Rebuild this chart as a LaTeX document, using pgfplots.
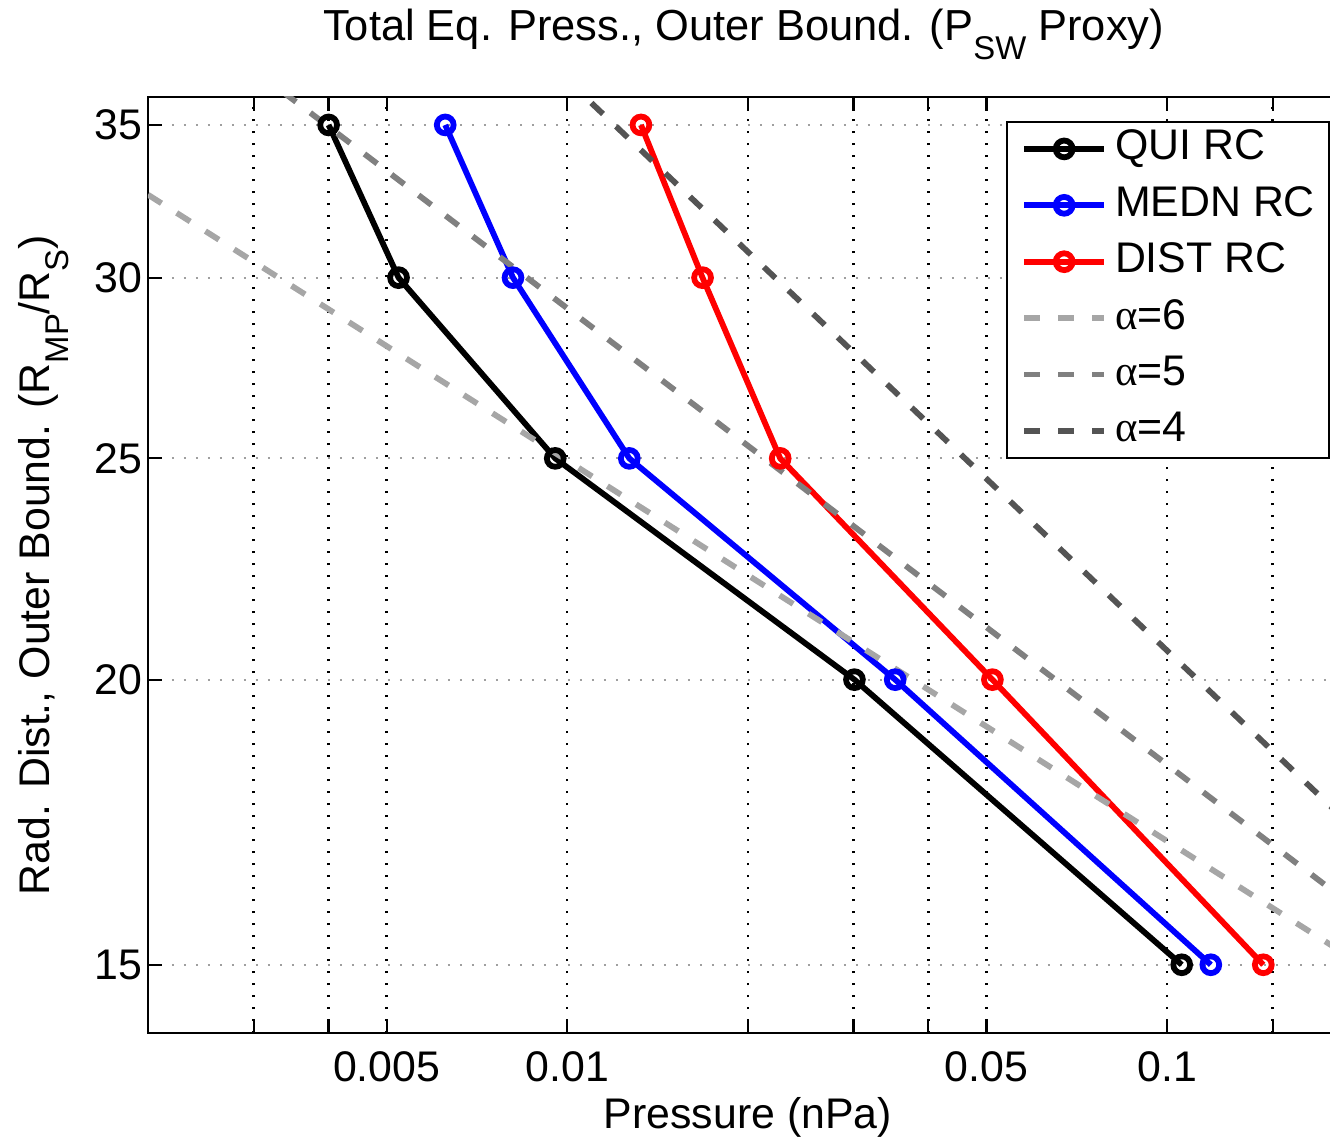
\documentclass[border=0pt]{standalone}
\usepackage{fontspec}
\setmainfont{Liberation Sans}
\newfontfamily\grk{Liberation Serif}
\usepackage{pgfplots}
\pgfplotsset{compat=1.18}
\newcommand{\sub}[1]{\raisebox{-9.5bp}{\fontsize{16.5}{16.5}\selectfont #1}}
\newcommand{\fs}{\fontsize{21.5}{26}\selectfont}
\definecolor{g6}{gray}{0.65}
\definecolor{g5}{gray}{0.50}
\definecolor{g4}{gray}{0.33}
\begin{document}
\fs
\begin{tikzpicture}
\begin{loglogaxis}[
  scale only axis,
  width=599.8bp, height=468.1bp,
  xmin=0.002, xmax=0.2, ymin=14, ymax=36,
  xtick={0.003,0.004,0.005,0.01,0.02,0.03,0.04,0.05,0.1,0.15},
  xticklabels={,,0.005,0.01,,,,0.05,0.1,},
  ytick={15,20,25,30,35},
  yticklabels={15,20,25,30,35},
  minor xtick={}, minor ytick={},
  tick align=inside,
  major tick length=7bp,
  xmajorgrids, ymajorgrids,
  major x grid style={black, line width=1.2bp, dash pattern=on 1.2bp off 4.8bp},
  major y grid style={gray!75, line width=1bp, dash pattern=on 1.2bp off 4.8bp},
  axis line style={line width=1.1bp},
  every tick/.style={black, line width=1.1bp},
  tick label style={font=\fs},
  /pgf/number format/assume math mode=true,
  xticklabel style={anchor=north, inner sep=0pt, yshift=-9bp},
  yticklabel style={anchor=east, inner sep=0pt, xshift=-2.5bp},
  title={Total Eq. Press., Outer Bound. (P\sub{SW} Proxy)},
  title style={at={(axis description cs:0.4965,1.047)}, anchor=base, font=\fontsize{21.8}{26}\selectfont, inner sep=0pt},
  xlabel={Pressure (nPa)},
  xlabel style={at={(axis description cs:0.5,-0.1015)}, anchor=base, font=\fs, inner sep=0pt},
  ylabel={Rad. Dist., Outer Bound. (R\sub{MP}/R\sub{S})},
  ylabel style={at={(axis description cs:-0.0817,0.5)}, anchor=base, font=\fs, inner sep=0pt},
  legend image code/.code={\draw[mark repeat=2,mark phase=2,#1] plot coordinates {(0bp,0bp) (20bp,0bp) (40bp,0bp)};},
  legend style={at={(axis description cs:0.9853,0.9744)}, anchor=north east,
    draw=black, line width=1bp, fill=white, font=\fs,
    inner xsep=7bp, inner ysep=3bp, row sep=7.2bp,
    nodes={inner sep=0pt, text height=16bp, text depth=5bp},
    /tikz/every odd column/.append style={column sep=4bp}},
  legend cell align=left,
]
\addplot[black, line width=2.9bp, mark=o, mark size=4.2bp, mark options={solid}] coordinates {
 (0.004001,35) (0.005233,30) (0.009550,25) (0.03012,20) (0.1058,15)};
\addlegendentry{QUI RC}
\addplot[blue, line width=2.9bp, mark=o, mark size=4.2bp, mark options={solid}] coordinates {
 (0.006260,35) (0.008120,30) (0.01269,25) (0.03522,20) (0.1183,15)};
\addlegendentry{MEDN RC}
\addplot[red, line width=2.9bp, mark=o, mark size=4.2bp, mark options={solid}] coordinates {
 (0.01327,35) (0.01681,30) (0.02265,25) (0.05115,20) (0.1447,15)};
\addlegendentry{DIST RC}
\addplot[g6, line width=2.9bp, dash pattern=on 8bp off 9bp] coordinates {(0.002,32.62) (0.2,15.14)};
\addlegendentry{{\grk α}=6}
\addplot[g5, line width=2.9bp, dash pattern=on 8bp off 9bp] coordinates {(0.002,40.13) (0.2,15.98)};
\addlegendentry{{\grk α}=5}
\addplot[g4, line width=2.9bp, dash pattern=on 8bp off 9bp] coordinates {(0.002,54.76) (0.2,17.32)};
\addlegendentry{{\grk α}=4}
\end{loglogaxis}
\pgfresetboundingbox
\path[use as bounding box] ([xshift=-74bp,yshift=-52bp]current axis.south west) rectangle ([xshift=-8.8bp,yshift=48.5bp]current axis.north east);
\end{tikzpicture}
\end{document}
